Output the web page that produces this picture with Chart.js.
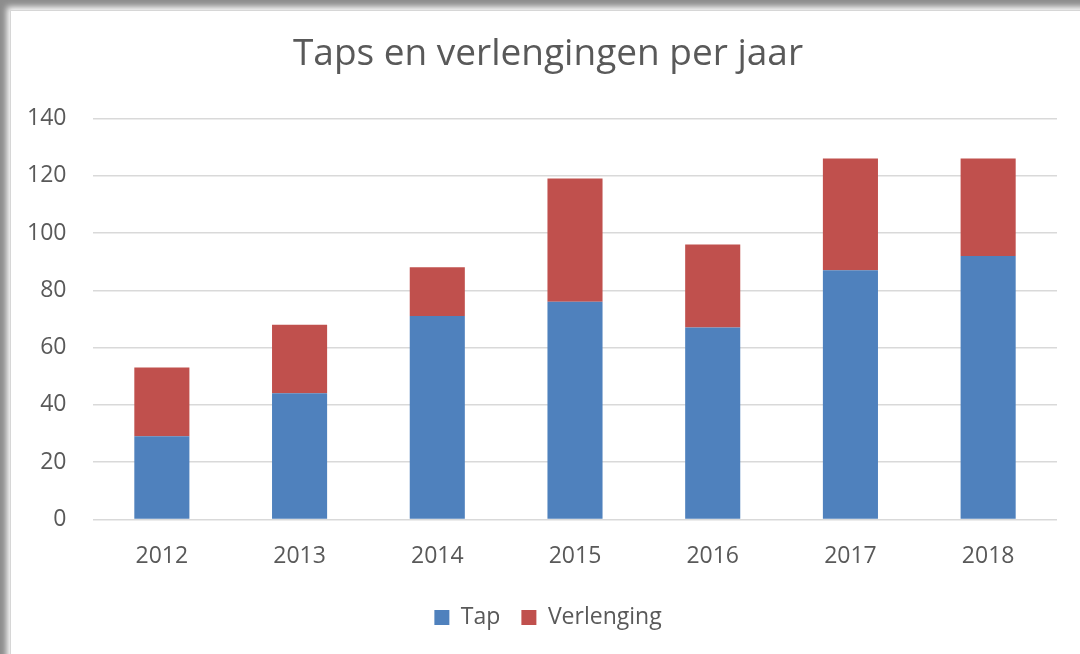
<!DOCTYPE html>
<html>
<head>
<meta charset="utf-8">
<script src="https://cdn.jsdelivr.net/npm/chart.js@4"></script>
<style>
  html, body { margin: 0; padding: 0; background: #fff; }
  #frame {
    position: relative;
    width: 1080px;
    height: 654px;
    overflow: hidden;
    box-shadow: inset 10px 10px 6px -3px rgba(0, 0, 0, 0.45);
  }
  #inner {
    position: absolute;
    left: 10px;
    top: 10px;
    right: 0;
    bottom: 0;
    border-left: 1px solid #d6d6d6;
    border-top: 1px solid #d6d6d6;
    background: #fff;
  }
  canvas { position: absolute; left: 0; top: 0; }
</style>
</head>
<body>
<div id="frame">
  <div id="inner"></div>
  <canvas id="chart" width="1080" height="654"></canvas>
</div>
<script>
const years = ['2012', '2013', '2014', '2015', '2016', '2017', '2018'];
const tapValues = [29, 44, 71, 76, 67, 87, 92];
const verlengingValues = [24, 24, 17, 43, 29, 39, 34];
const yTicks = [0, 20, 40, 60, 80, 100, 120, 140];

const textColor = '#595959';
const fontFamily = '"Open Sans", sans-serif';

const ctx = document.getElementById('chart').getContext('2d');

new Chart(ctx, {
  type: 'bar',
  data: {
    labels: years,
    datasets: [
      {
        label: 'Tap',
        data: tapValues,
        backgroundColor: '#4f81bd',
        barPercentage: 0.4,
        categoryPercentage: 1
      },
      {
        label: 'Verlenging',
        data: verlengingValues,
        backgroundColor: '#c0504d',
        barPercentage: 0.4,
        categoryPercentage: 1
      }
    ]
  },
  options: {
    responsive: false,
    animation: false,
    layout: {
      padding: { left: 39, right: 23, top: 28, bottom: 15 }
    },
    plugins: {
      title: {
        display: true,
        text: 'Taps en verlengingen per jaar',
        color: textColor,
        font: { family: fontFamily, size: 37, weight: 'normal' },
        padding: { top: 4, bottom: 42 }
      },
      legend: {
        position: 'bottom',
        labels: {
          color: textColor,
          font: { family: fontFamily, size: 23 },
          boxWidth: 15,
          boxHeight: 15,
          padding: 21
        }
      },
      tooltip: { enabled: false }
    },
    scales: {
      x: {
        stacked: true,
        grid: { display: false },
        border: { display: false },
        ticks: {
          color: textColor,
          font: { family: fontFamily, size: 23 },
          padding: 15
        }
      },
      y: {
        stacked: true,
        min: 0,
        max: 140,
        afterBuildTicks: (axis) => {
          axis.ticks = yTicks.map(v => ({ value: v }));
        },
        // narrow axis box, labels pushed out to the left (mirror avoids clipping)
        afterFit: (axis) => {
          axis.width = 54;
        },
        grid: { color: '#d9d9d9', lineWidth: 1.5, drawTicks: false },
        border: { display: false },
        ticks: {
          mirror: true,
          crossAlign: 'far',
          color: textColor,
          font: { family: fontFamily, size: 23 },
          padding: -66
        }
      }
    }
  }
});
</script>
</body>
</html>
